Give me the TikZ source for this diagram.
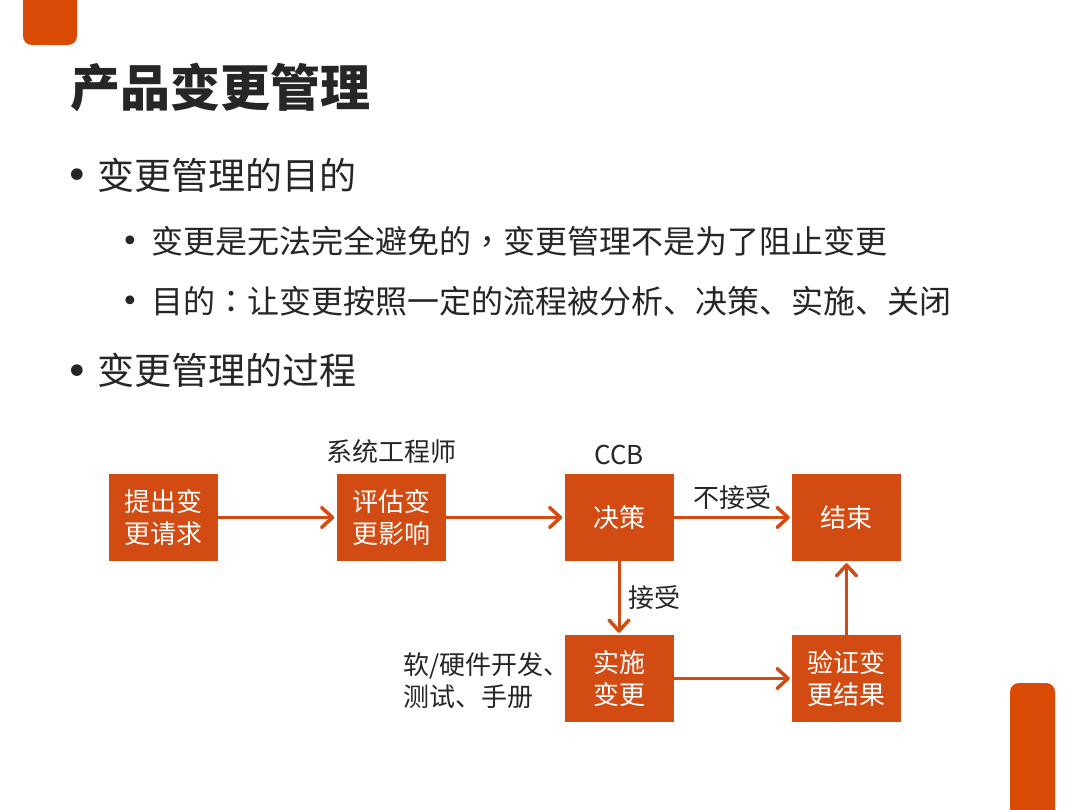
\documentclass[tikz,border=0pt]{standalone}
\usepackage{fontspec}
\setmainfont{Noto Sans CJK SC}
\newfontfamily\tcfont{Noto Sans CJK TC}
\newfontfamily\bulfont{DejaVu Sans}
\usetikzlibrary{arrows.meta}
\definecolor{boxc}{HTML}{D24B12}
\definecolor{tabc}{HTML}{D94A04}
\definecolor{txt}{HTML}{262626}
\tikzset{
  stepbox/.style={fill=boxc, minimum width=109pt, minimum height=87pt, inner sep=0pt,
    text=white, align=center, font=\fontsize{26}{32}\selectfont},
  lbl/.style={text=txt, inner sep=0pt, font=\fontsize{26}{32}\selectfont},
  arr/.style={draw=boxc, line width=3pt, shorten >=2pt,
    -{Straight Barb[length=11pt,width=20pt,line width=3.5pt,round]}},
  bul/.style={text=txt, inner sep=0pt, anchor=west},
  dot/.style={text=txt, inner sep=0pt, anchor=base},
}
\begin{document}
\begin{tikzpicture}[x=1pt,y=-1pt]
\clip (0,0) rectangle (1080,810);
\fill[white] (0,0) rectangle (1080,810);
% tabs
\fill[tabc, rounded corners=9pt] (23,-30) rectangle (77,45);
\fill[tabc, rounded corners=9pt] (1010,683) rectangle (1055,840);
% title
\node[bul, font=\fontsize{50}{60}\selectfont\bfseries] (title) at (70,88) {产品变更管理};
% bullets
\node[dot, font=\bulfont\fontsize{40}{44}\selectfont] (b1) at (77,190) {•};
\node[bul, font=\fontsize{37}{40}\selectfont] (t1) at (97,175) {变更管理的目的};
\node[dot, font=\bulfont\fontsize{30}{34}\selectfont] (b2) at (130,252) {•};
\node[bul, font=\fontsize{32}{36}\selectfont] (t2) at (151,241) {变更是无法完全避免的{\tcfont ，}变更管理不是为了阻止变更};
\node[dot, font=\bulfont\fontsize{30}{34}\selectfont] (b3) at (130,312) {•};
\node[bul, font=\fontsize{32}{36}\selectfont] (t3) at (151,301) {目的{\tcfont ：}让变更按照一定的流程被分析、决策、实施、关闭};
\node[dot, font=\bulfont\fontsize{40}{44}\selectfont] (b4) at (77,386) {•};
\node[bul, font=\fontsize{37}{40}\selectfont] (t4) at (97,370) {变更管理的过程};
% boxes
\node[stepbox] (n1) at (163,517.5) {提出变\\更请求};
\node[stepbox] (n2) at (391,517.5) {评估变\\更影响};
\node[stepbox] (n3) at (619,517.5) {决策};
\node[stepbox] (n4) at (846.5,517.5) {结束};
\node[stepbox] (n5) at (619,678.5) {实施\\变更};
\node[stepbox] (n6) at (846.5,678.5) {验证变\\更结果};
% arrows
\draw[arr] (n1) -- (n2);
\draw[arr] (n2) -- (n3);
\draw[arr] (n3) -- node[lbl, above=6pt] (l1) {不接受} (n4);
\draw[arr] (n3) -- node[lbl, right=8pt] (l2) {接受} (n5);
\draw[arr] (n5) -- (n6);
\draw[arr] (n6) -- (n4);
% labels
\node[lbl, above=10pt] (l3) at (n2.north) {系统工程师};
\node[lbl, above=9pt] (l4) at (n3.north) {CCB};
\node[lbl, align=left, anchor=west] (l5) at (403,681) {软/硬件开发、\\测试、手册};
\end{tikzpicture}
\end{document}
